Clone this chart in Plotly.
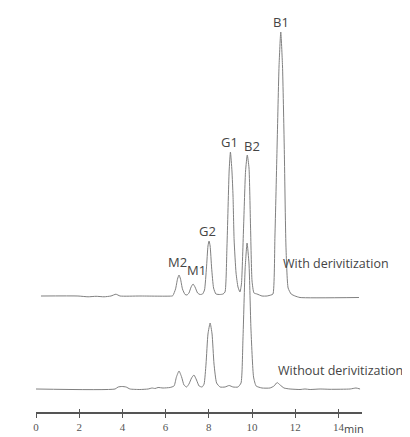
import plotly.graph_objects as go

# With derivitization trace: retention time (min) and detector signal (a.u.)
with_time = [0.23, 1.94, 2.41, 2.78, 3.15, 3.47, 3.70, 3.89, 4.81, 6.30,
             6.34, 6.46, 6.55, 6.62, 6.69, 6.78, 6.90, 6.99,
             7.08, 7.18, 7.27, 7.36, 7.48, 7.59, 7.71,
             7.80, 7.89, 7.96, 8.01, 8.06, 8.13, 8.22, 8.33, 8.52, 8.66,
             8.75, 8.84, 8.94, 9.00, 9.07, 9.12, 9.17, 9.26, 9.35, 9.44,
             9.51, 9.61, 9.70, 9.78, 9.86, 9.93, 10.00, 10.09, 10.23, 10.46, 10.69, 10.88,
             10.97, 11.06, 11.16, 11.25, 11.33, 11.41, 11.49, 11.57, 11.67, 11.81,
             11.99, 12.22, 14.95]
with_signal = [0, 0, -0.8, -0.3, -0.8, 0, 1.8, 0, 0, 0,
               0.5, 7, 17, 21, 17, 7, 1.5, 1,
               3, 9, 12, 9, 3, 1.5, 2,
               6, 28, 50, 55, 50, 28, 8, 2, 1.5, 2,
               4, 50, 125, 144, 125, 100, 56, 23, 9, 4,
               12, 70, 125, 141, 128, 70, 15, 3, 2, 0, 0, 1,
               2, 60, 150, 230, 264, 230, 150, 50, 8, 2,
               0, -1.5, -1.5]

# Without derivitization trace
without_time = [0.0, 3.66, 3.80, 3.98, 4.17, 4.35, 4.81, 5.19, 5.37, 5.51, 5.65, 5.88, 6.20,
                6.39, 6.50, 6.62, 6.74, 6.85, 6.97,
                7.08, 7.20, 7.31, 7.43, 7.55, 7.69,
                7.78, 7.87, 7.96, 8.06, 8.15, 8.24, 8.36, 8.52, 8.75, 8.94, 9.12, 9.35,
                9.49, 9.58, 9.68, 9.77, 9.86, 9.95, 10.07, 10.19, 10.46, 10.83,
                11.02, 11.16, 11.30, 11.48, 11.76, 12.22, 12.45, 12.69, 13.15, 13.61,
                14.54, 14.81, 15.0]
without_signal = [0, 0, 2, 2.5, 2, 0, -0.5, 0, 1, 0.5, 1.5, 1, 1.5,
                  3, 12, 18, 12, 4, 2,
                  5, 11, 14, 9, 3, 2,
                  5, 25, 55, 66, 55, 25, 6, 2, 2, 3.5, 2, 2,
                  6, 50, 120, 146, 125, 60, 12, 3, 1, 1,
                  3, 6.5, 4, 1, 0, -0.5, 0, -0.5, 0, -0.3,
                  0, 1, 0]

peak_names = ["M2", "M1", "G2", "G1", "B2", "B1"]
peak_times = [6.53, 7.45, 7.96, 8.94, 10.0, 11.34]
peak_label_heights = [34, 26, 65, 154, 150, 274]

trace_names = ["With derivitization", "Without derivitization"]
tick_values = [0, 2, 4, 6, 8, 10, 12, 14]
x_unit = "min"

WITH_OFFSET = 116
WITHOUT_OFFSET = 23
LINE_COLOR = "#808080"
TEXT_COLOR = "#444444"

fig = go.Figure()
fig.add_trace(go.Scatter(
    x=with_time, y=[v + WITH_OFFSET for v in with_signal],
    mode="lines", line=dict(color=LINE_COLOR, width=1, shape="spline", smoothing=0.5),
    showlegend=False, hoverinfo="skip"))
fig.add_trace(go.Scatter(
    x=without_time, y=[v + WITHOUT_OFFSET for v in without_signal],
    mode="lines", line=dict(color=LINE_COLOR, width=1, shape="spline", smoothing=0.5),
    showlegend=False, hoverinfo="skip"))

for name, t, h in zip(peak_names, peak_times, peak_label_heights):
    fig.add_annotation(x=t, y=h + WITH_OFFSET, text=name, showarrow=False,
                       font=dict(family="Open Sans", size=13, color=TEXT_COLOR),
                       xanchor="center", yanchor="middle")

fig.add_annotation(x=11.34, y=WITH_OFFSET + 33, text=trace_names[0], showarrow=False,
                   font=dict(family="Open Sans", size=12.5, color=TEXT_COLOR),
                   xanchor="left", yanchor="middle")
fig.add_annotation(x=11.11, y=WITHOUT_OFFSET + 19, text=trace_names[1], showarrow=False,
                   font=dict(family="Open Sans", size=12.5, color=TEXT_COLOR),
                   xanchor="left", yanchor="middle")
fig.add_annotation(x=14.72, xref="x", y=0, yref="paper", yshift=-16, text=x_unit,
                   showarrow=False, font=dict(family="Open Sans", size=11, color=TEXT_COLOR),
                   xanchor="center", yanchor="middle")

fig.update_layout(
    width=402, height=429,
    margin=dict(l=28, r=48, t=0, b=25),
    paper_bgcolor="white", plot_bgcolor="white",
    xaxis=dict(range=[0, 15.09], tickvals=tick_values, ticktext=[str(v) for v in tick_values],
               showgrid=False, zeroline=False, showline=True, linecolor="#555555", linewidth=1.5,
               ticks="outside", ticklen=4, tickcolor="#555555", tickwidth=1.2,
               tickfont=dict(family="Liberation Serif", size=11, color="#555555")),
    xaxis2=dict(range=[0, 15.09], overlaying="x", side="bottom", anchor="y",
                tickvals=tick_values, showticklabels=False, showgrid=False, zeroline=False,
                ticks="inside", ticklen=3, tickcolor="#555555", tickwidth=1.2),
    yaxis=dict(range=[0, 404], visible=False, showgrid=False, zeroline=False),
)
# invisible trace so that the overlaid tick axis is drawn
fig.add_trace(go.Scatter(x=[0], y=[0], xaxis="x2", mode="markers",
                         marker=dict(opacity=0), showlegend=False, hoverinfo="skip"))

fig.write_html("out.html")
